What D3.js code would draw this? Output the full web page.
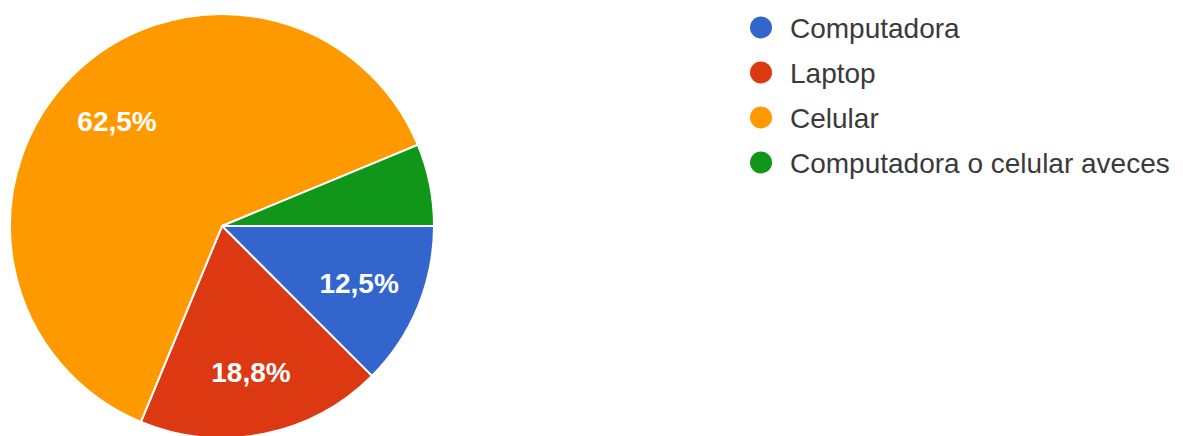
<!DOCTYPE html>
<html>
<head>
<meta charset="utf-8">
<script src="https://cdn.jsdelivr.net/npm/d3@7"></script>
<style>
  html, body { margin: 0; padding: 0; background: #ffffff; }
  svg { display: block; }
</style>
</head>
<body>
<svg id="chart" width="1183" height="436"></svg>
<script>
const categories = ["Computadora", "Laptop", "Celular", "Computadora o celular aveces"];
const values = [12.5, 18.75, 62.5, 6.25];
const labels = ["12,5%", "18,8%", "62,5%", ""];
const colors = ["#3366cc", "#dc3912", "#ff9900", "#109618"];

const svg = d3.select("#chart");
const cx = 222, cy = 226, r = 212;

const pie = d3.pie().sort(null).value(d => d)
  .startAngle(Math.PI / 2).endAngle(Math.PI / 2 + 2 * Math.PI);
const arcs = pie(values);
const arc = d3.arc().innerRadius(0).outerRadius(r);
const labelArc = d3.arc().innerRadius(r * 0.7).outerRadius(r * 0.7);

const g = svg.append("g").attr("transform", `translate(${cx},${cy})`);
g.selectAll("path.slice").data(arcs).join("path")
  .attr("class", "slice")
  .attr("d", arc)
  .attr("fill", (d, i) => colors[i])
  .attr("stroke", "#ffffff")
  .attr("stroke-width", 2);

g.selectAll("text.lbl").data(arcs).join("text")
  .attr("class", "lbl")
  .attr("transform", d => `translate(${labelArc.centroid(d)})`)
  .attr("text-anchor", "middle")
  .attr("dy", "0.36em")
  .attr("font-family", "Liberation Sans, Arial, sans-serif")
  .attr("font-size", 28)
  .attr("font-weight", "bold")
  .attr("fill", "#ffffff")
  .text((d, i) => labels[i]);

const y = d3.scaleBand().domain(categories).range([5, 185]);
const leg = svg.append("g");
const rows = leg.selectAll("g.row").data(categories).join("g")
  .attr("class", "row")
  .attr("transform", d => `translate(0,${y(d) + y.bandwidth() / 2})`);
rows.append("circle")
  .attr("cx", 761).attr("cy", 0).attr("r", 11)
  .attr("fill", (d, i) => colors[i]);
rows.append("text")
  .attr("x", 790).attr("y", 0).attr("dy", "0.36em")
  .attr("font-family", "Liberation Sans, Arial, sans-serif")
  .attr("font-size", 28)
  .attr("fill", "#3a3a3a")
  .text(d => d);
</script>
</body>
</html>
